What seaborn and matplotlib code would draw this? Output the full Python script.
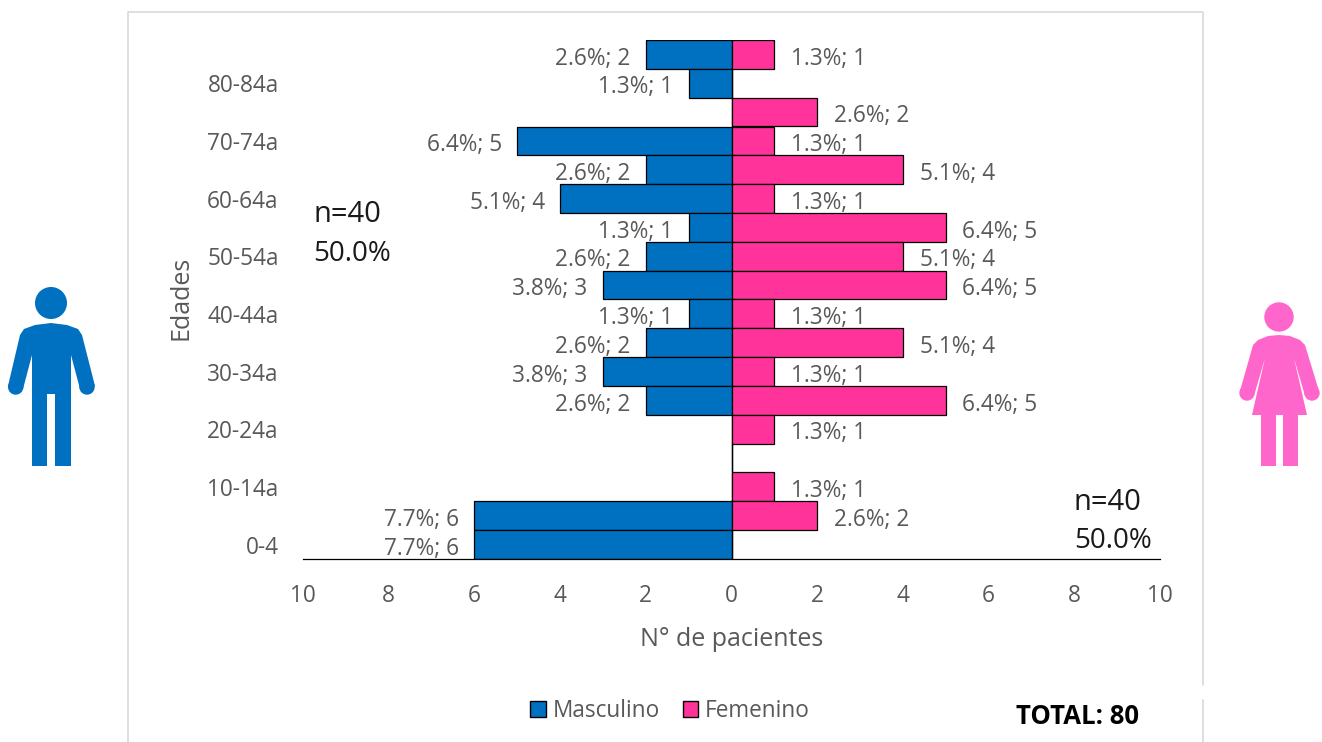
import pandas as pd
import matplotlib
matplotlib.use("Agg")
import matplotlib.pyplot as plt
import seaborn as sns
from matplotlib.patches import Circle, Polygon, Patch

# rows run from the top of the pyramid down
AGES = ['85-89a', '80-84a', '75-79a', '70-74a', '65-69a', '60-64a', '55-59a', '50-54a', '45-49a',
        '40-44a', '35-39a', '30-34a', '25-29a', '20-24a', '15-19a', '10-14a', '5-9a', '0-4']
MALE = [2, 1, 0, 5, 2, 4, 1, 2, 3, 1, 2, 3, 2, 0, 0, 0, 6, 6]
FEMALE = [1, 0, 2, 1, 4, 1, 5, 4, 5, 1, 4, 1, 5, 1, 0, 1, 2, 0]
MALE_PCT = [2.6, 1.3, 0, 6.4, 2.6, 5.1, 1.3, 2.6, 3.8, 1.3, 2.6, 3.8, 2.6, 0, 0, 0, 7.7, 7.7]
FEMALE_PCT = [1.3, 0, 2.6, 1.3, 5.1, 1.3, 6.4, 5.1, 6.4, 1.3, 5.1, 1.3, 6.4, 1.3, 0, 1.3, 2.6, 0]
SHOWN_AGES = ['80-84a', '70-74a', '60-64a', '50-54a', '40-44a', '30-34a', '20-24a', '10-14a', '0-4']
X_TICKS = [-10, -8, -6, -4, -2, 0, 2, 4, 6, 8, 10]

W, H = 1322, 742
BLUE = '#0070C0'
PINK = '#FF3399'
ICON_PINK = '#FF66CC'
GREY = '#595959'
DARK = '#1a1a1a'
FS = 16.3

sns.set_theme(style="white")
plt.rcParams['font.family'] = ['Open Sans', 'DejaVu Sans']


def bar_text(values, pcts):
    return [f'{p:.1f}%; {abs(v)}' if v else '' for v, p in zip(values, pcts)]


def draw_man(bg):
    # outline, in px
    body = [(20, 335), (24, 329), (35, 325), (51, 323), (67, 325), (78, 329), (82, 335),
            (95, 386), (80, 389), (71, 355), (71, 466), (55, 466), (55, 394), (47, 394),
            (47, 466), (32, 466), (32, 355), (23, 389), (8, 386)]
    bg.add_patch(Polygon(body, color=BLUE, lw=0))
    for c, r in [((51, 303), 16), ((15.7, 387), 7.7), ((87, 387), 7.7)]:
        bg.add_patch(Circle(c, r, color=BLUE, lw=0))


def draw_woman(bg):
    body = [(1253, 345), (1258, 340), (1268, 336), (1279, 335), (1290, 336), (1300, 340), (1305, 345),
            (1319, 391), (1305, 396), (1294, 358), (1307, 415), (1298, 415), (1298, 466), (1283, 466),
            (1283, 415), (1276, 415), (1276, 466), (1261, 466), (1261, 415), (1252, 415),
            (1265, 358), (1254, 396), (1240, 391)]
    bg.add_patch(Polygon(body, color=ICON_PINK, lw=0))
    for c, r in [((1279, 317), 14.7), ((1247, 393), 7.7), ((1312, 393), 7.7)]:
        bg.add_patch(Circle(c, r, color=ICON_PINK, lw=0))


df = pd.DataFrame({
    'Edad': AGES * 2,
    'Pacientes': [-v for v in MALE] + FEMALE,
    'Sexo': ['Masculino'] * len(AGES) + ['Femenino'] * len(AGES),
})

fig = plt.figure(figsize=(W / 100, H / 100), dpi=100)

# full-figure layer for the frame and the two figures, in pixel coordinates
bg = fig.add_axes([0, 0, 1, 1], zorder=0)
bg.set_xlim(0, W)
bg.set_ylim(H, 0)
bg.axis('off')
bg.plot([128, 128, 1203, 1203], [H, 12, 12, 685], color='#D9D9D9', lw=1.2)
bg.plot([1203, 1203], [700, H], color='#D9D9D9', lw=1.2)
draw_man(bg)
draw_woman(bg)

ax = fig.add_axes([303 / W, 1 - 559 / H, (1160 - 303) / W, (559 - 40) / H], zorder=1)
ax.patch.set_alpha(0)
sns.barplot(data=df, y='Edad', x='Pacientes', hue='Sexo', order=AGES, dodge=False, width=1,
            palette={'Masculino': BLUE, 'Femenino': PINK}, saturation=1, legend=False,
            edgecolor='black', linewidth=0.9, ax=ax)

male_labels = ax.bar_label(ax.containers[0], labels=bar_text(MALE, MALE_PCT), padding=11, fontsize=FS, color=GREY)
female_labels = ax.bar_label(ax.containers[1], labels=bar_text(FEMALE, FEMALE_PCT), padding=12, fontsize=FS, color=GREY)
# nudge the labels down a little, they sit low on the bars in the original
for lab in list(male_labels) + list(female_labels):
    lab.xyann = (lab.xyann[0], -3.0)

ax.axvline(0, color='black', lw=0.8, zorder=0)
ax.set_xlim(-10, 10)
ax.set_ylim(len(AGES) - 0.5, -0.5)
ax.set_xticks(X_TICKS)
ax.set_xticklabels([str(abs(t)) for t in X_TICKS], fontsize=FS, color=GREY)
ax.set_yticks([AGES.index(a) for a in SHOWN_AGES])
ax.set_yticklabels(SHOWN_AGES, fontsize=FS, color=GREY)
ax.tick_params(axis='x', length=0, pad=18)
ax.tick_params(axis='y', length=0, pad=17.5)
for side in ['top', 'left', 'right']:
    ax.spines[side].set_visible(False)
ax.spines['bottom'].set_color('black')
ax.spines['bottom'].set_linewidth(0.9)
ax.set_xlabel('')
ax.set_ylabel('')

bg.text(732, 639, 'N° de pacientes', ha='center', va='center', fontsize=18, color=GREY)
bg.text(181, 298, 'Edades', ha='center', va='center', rotation=90, fontsize=18, color=GREY)
bg.text(313, 214, 'n=40', ha='left', va='center', fontsize=21, color=DARK)
bg.text(313, 254, '50.0%', ha='left', va='center', fontsize=20, color=DARK)
bg.text(1074, 503, 'n=40', ha='left', va='center', fontsize=21, color=DARK)
bg.text(1074, 541, '50.0%', ha='left', va='center', fontsize=20, color=DARK)
bg.text(1077, 717, 'TOTAL: 80', ha='center', va='center', fontsize=18.5, fontweight='bold', color='black')

handles = [Patch(facecolor=BLUE, edgecolor='black', label='Masculino'),
           Patch(facecolor=PINK, edgecolor='black', label='Femenino')]
fig.legend(handles=handles, loc='center', bbox_to_anchor=(670 / W, 1 - 711 / H), ncol=2, frameon=False,
           fontsize=FS, labelcolor=GREY, handlelength=0.7, handleheight=0.75, handletextpad=0.3,
           columnspacing=1.0)

fig.savefig('out.png', dpi=100)
